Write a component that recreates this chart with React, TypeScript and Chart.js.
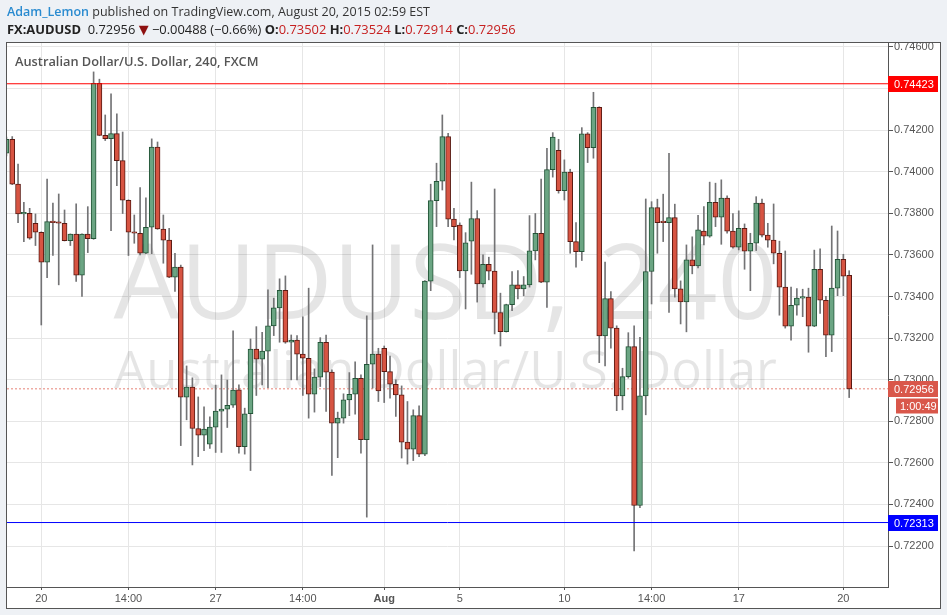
import React, { useEffect, useRef } from 'react';
import { Chart, registerables } from 'chart.js';

Chart.register(...registerables);

// ---- Data (4h candles, FX:AUDUSD, FXCM) ----
const opens = [
  0.74089, 0.74156, 0.7394, 0.73797, 0.738, 0.73752, 0.73709, 0.73565, 0.7376, 0.73755,
  0.73752, 0.73669, 0.737, 0.73502, 0.737, 0.73678, 0.74425, 0.74175, 0.74159, 0.74183,
  0.74053, 0.73863, 0.73709, 0.73704, 0.73608, 0.73733, 0.74118, 0.73724, 0.73671, 0.73493,
  0.73541, 0.72916, 0.72964, 0.72765, 0.72733, 0.7269, 0.72772, 0.72849, 0.72858, 0.72877,
  0.72951, 0.72678, 0.72836, 0.73147, 0.73099, 0.73137, 0.73259, 0.73345, 0.7343, 0.7318,
  0.7319, 0.73123, 0.73103, 0.7293, 0.73012, 0.7318, 0.73036, 0.72791, 0.72815, 0.72903,
  0.7293, 0.73007, 0.72711, 0.73074, 0.73123, 0.73151, 0.73039, 0.72978, 0.72927, 0.727,
  0.72666, 0.72827, 0.72642, 0.73474, 0.73861, 0.73954, 0.74169, 0.73772, 0.73744, 0.73523,
  0.73666, 0.73775, 0.73461, 0.73555, 0.73522, 0.73323, 0.73231, 0.73361, 0.73456, 0.73437,
  0.73456, 0.73619, 0.73704, 0.73469, 0.7401, 0.74103, 0.73909, 0.73998, 0.73664, 0.73616,
  0.74182, 0.74116, 0.7431, 0.73211, 0.7339, 0.73248, 0.72922, 0.73015, 0.73159, 0.72395,
  0.72922, 0.7352, 0.73827, 0.73759, 0.73755, 0.73779, 0.73437, 0.73374, 0.73576, 0.73547,
  0.73714, 0.7369, 0.73853, 0.73781, 0.73873, 0.73714, 0.73637, 0.73728, 0.73618, 0.73656,
  0.73849, 0.73695, 0.73671, 0.73608, 0.73445, 0.73257, 0.73358, 0.73392, 0.73397, 0.73257,
  0.73531, 0.73382, 0.73214, 0.7344, 0.73579, 0.73502,
];
const highs = [
  0.74167, 0.74169, 0.74037, 0.73853, 0.73824, 0.73797, 0.73711, 0.73965, 0.73849, 0.73893,
  0.73816, 0.73701, 0.73845, 0.73701, 0.73832, 0.7448, 0.74445, 0.74273, 0.74374, 0.74278,
  0.74191, 0.73865, 0.73792, 0.73924, 0.73874, 0.74158, 0.74143, 0.73792, 0.73728, 0.73608,
  0.73551, 0.73066, 0.73009, 0.72917, 0.72869, 0.72821, 0.72974, 0.73023, 0.72998, 0.73235,
  0.72975, 0.72863, 0.73196, 0.73255, 0.73228, 0.73432, 0.73392, 0.73485, 0.73499, 0.73215,
  0.73212, 0.73302, 0.7344, 0.73052, 0.73202, 0.73215, 0.73047, 0.72844, 0.72932, 0.73034,
  0.73086, 0.73023, 0.73307, 0.73648, 0.73151, 0.73162, 0.73114, 0.72999, 0.7297, 0.72895,
  0.72855, 0.72874, 0.73476, 0.7394, 0.74041, 0.74273, 0.74185, 0.73824, 0.73754, 0.73707,
  0.7395, 0.73813, 0.736, 0.73589, 0.73917, 0.73416, 0.73363, 0.7352, 0.73525, 0.73496,
  0.73789, 0.73799, 0.73965, 0.74113, 0.74188, 0.74156, 0.74057, 0.74012, 0.73755, 0.74212,
  0.74188, 0.74382, 0.74312, 0.73566, 0.73424, 0.73259, 0.73055, 0.73226, 0.73259, 0.73204,
  0.73869, 0.73856, 0.73868, 0.73892, 0.74089, 0.73844, 0.73475, 0.73648, 0.73687, 0.7379,
  0.73832, 0.7395, 0.73945, 0.73961, 0.73884, 0.73799, 0.73812, 0.73749, 0.73704, 0.7388,
  0.73869, 0.73752, 0.73845, 0.73666, 0.73619, 0.73445, 0.73438, 0.73435, 0.7344, 0.73623,
  0.73629, 0.73401, 0.73739, 0.73715, 0.73603, 0.73524,
];
const lows = [
  0.74076, 0.73938, 0.73755, 0.73664, 0.73675, 0.73645, 0.73263, 0.73491, 0.73597, 0.73456,
  0.73667, 0.73645, 0.73472, 0.734, 0.73611, 0.73675, 0.74173, 0.7415, 0.73717, 0.73933,
  0.73799, 0.73597, 0.73656, 0.736, 0.73606, 0.73606, 0.73723, 0.7356, 0.73491, 0.73424,
  0.72683, 0.72807, 0.7259, 0.7263, 0.72659, 0.72669, 0.7265, 0.7265, 0.7277, 0.72866,
  0.72647, 0.72642, 0.72563, 0.72924, 0.72975, 0.72962, 0.73212, 0.7318, 0.73175, 0.72999,
  0.72999, 0.72924, 0.72815, 0.72844, 0.72967, 0.72847, 0.72539, 0.72625, 0.72791, 0.72827,
  0.72834, 0.72647, 0.72339, 0.72959, 0.72895, 0.7289, 0.72911, 0.72823, 0.72623, 0.72594,
  0.72611, 0.7263, 0.72634, 0.73428, 0.73736, 0.73912, 0.73736, 0.73672, 0.73491, 0.7334,
  0.73507, 0.73373, 0.73445, 0.7348, 0.7322, 0.73162, 0.73229, 0.73332, 0.73388, 0.73403,
  0.73445, 0.73576, 0.73467, 0.73347, 0.73974, 0.73897, 0.73864, 0.73608, 0.73541, 0.73573,
  0.74044, 0.74065, 0.73082, 0.73066, 0.73151, 0.72851, 0.72855, 0.73007, 0.72177, 0.72385,
  0.72831, 0.73364, 0.73608, 0.73664, 0.73323, 0.73397, 0.73268, 0.7323, 0.73509, 0.73538,
  0.73648, 0.73685, 0.73736, 0.73651, 0.73704, 0.73632, 0.73624, 0.73531, 0.73428, 0.73621,
  0.73687, 0.73637, 0.73557, 0.7331, 0.73248, 0.7319, 0.7331, 0.73303, 0.73132, 0.73255,
  0.73318, 0.73111, 0.73135, 0.73404, 0.73404, 0.72914,
];
const closes = [
  0.74156, 0.7394, 0.73797, 0.738, 0.7368, 0.73709, 0.73565, 0.7376, 0.73755, 0.73752,
  0.73669, 0.737, 0.73502, 0.737, 0.73678, 0.74425, 0.74175, 0.74159, 0.74183, 0.74053,
  0.73863, 0.73709, 0.73704, 0.73608, 0.73733, 0.74118, 0.73725, 0.73671, 0.73493, 0.73541,
  0.72916, 0.72964, 0.72765, 0.72733, 0.72762, 0.72772, 0.72849, 0.72858, 0.72877, 0.7295,
  0.72678, 0.72836, 0.73147, 0.73099, 0.73137, 0.73259, 0.73345, 0.7343, 0.7318, 0.7319,
  0.73123, 0.73103, 0.7293, 0.73012, 0.7318, 0.73036, 0.72791, 0.72815, 0.72903, 0.7293,
  0.73007, 0.72711, 0.73074, 0.73123, 0.72946, 0.73039, 0.72978, 0.72927, 0.727, 0.72666,
  0.72827, 0.72642, 0.73474, 0.73861, 0.73954, 0.74169, 0.73772, 0.73736, 0.73523, 0.73658,
  0.73775, 0.73461, 0.73555, 0.73522, 0.73323, 0.73231, 0.73361, 0.73456, 0.73437, 0.73456,
  0.73619, 0.73704, 0.73469, 0.7401, 0.74167, 0.73909, 0.73998, 0.73664, 0.73616, 0.74182,
  0.74116, 0.7431, 0.73211, 0.7339, 0.73248, 0.72922, 0.73015, 0.73159, 0.72395, 0.72922,
  0.7352, 0.73827, 0.73755, 0.73755, 0.73779, 0.73437, 0.73374, 0.73576, 0.73547, 0.7372,
  0.7369, 0.73853, 0.73781, 0.73873, 0.73714, 0.73637, 0.73728, 0.73618, 0.73656, 0.73849,
  0.73695, 0.73671, 0.73608, 0.73445, 0.73257, 0.73358, 0.73392, 0.73397, 0.73257, 0.73531,
  0.73382, 0.73214, 0.7344, 0.73579, 0.73498, 0.72956,
];

const yTickValues = [0.722, 0.724, 0.726, 0.728, 0.73, 0.732, 0.734, 0.736, 0.738, 0.74, 0.742, 0.744, 0.746];
const xTickIndex = [7, 22, 37, 52, 66, 79, 97, 112, 127, 145];
const xTickLabels = ['20', '14:00', '27', '14:00', 'Aug', '5', '10', '14:00', '17', '20'];

const resistanceLevel = 0.74423;
const supportLevel = 0.72313;
const dayChange = -0.00488;
const dayChangePct = -0.66;
const countdown = '1:00:49';
const symbol = 'AUDUSD';
const interval = '240';
const description = 'Australian Dollar/U.S. Dollar';
const exchange = 'FXCM';
const author = 'Adam_Lemon';
const published = 'published on TradingView.com, August 20, 2015 02:59 EST';

// ---- Styles ----
const UP = '#6ba583';
const DOWN = '#d75442';
const UP_BORDER = '#225437';
const DOWN_BORDER = '#5b1a13';
const WICK = '#737375';
const GRID = '#e6e6e6';
const AXIS = '#555555';
const PAGE_BG = '#eef1f5';
const LAST_COLOR = '#d9574a';
const TICK_FONT = '"Liberation Sans", Arial, sans-serif';
const UI_FONT = '"Open Sans", "DejaVu Sans", sans-serif';

const X_MIN = 1.1;
const X_MAX = 152.68;
const Y_MIN = 0.72003;
const Y_MAX = 0.74619;

const fmt = (v: number) => v.toFixed(5);
const signed = (v: number, d: number) => (v < 0 ? '\u2212' : '+') + Math.abs(v).toFixed(d);

export default function App() {
  const canvasRef = useRef<HTMLCanvasElement>(null);

  useEffect(() => {
    const canvas = canvasRef.current;
    if (!canvas) return;
    const idx = opens.map((_, i) => i + 1);
    const lastPrice = closes[closes.length - 1];

    const bgPlugin = {
      id: 'pageBackground',
      beforeDraw(chart: any) {
        const { ctx, chartArea } = chart;
        ctx.save();
        ctx.fillStyle = PAGE_BG;
        ctx.fillRect(0, 0, chart.width, chart.height);
        const l = chartArea.left - 0.5;
        const t = chartArea.top - 0.5;
        const r = chart.width - 6.5;
        const b = chart.height - 6.5;
        ctx.fillStyle = '#ffffff';
        ctx.fillRect(l, t, r - l, b - t);
        ctx.strokeStyle = AXIS;
        ctx.lineWidth = 1;
        ctx.strokeRect(l, t, r - l, b - t);
        ctx.restore();
      },
    };

    const watermarkPlugin = {
      id: 'watermark',
      beforeDatasetsDraw(chart: any) {
        const { ctx, chartArea } = chart;
        const cx = (chartArea.left + chartArea.right) / 2 - 2;
        ctx.save();
        ctx.beginPath();
        ctx.rect(chartArea.left, chartArea.top, chartArea.right - chartArea.left, chartArea.bottom - chartArea.top);
        ctx.clip();
        ctx.fillStyle = 'rgba(0,0,0,0.10)';
        ctx.textAlign = 'center';
        ctx.textBaseline = 'alphabetic';
        ctx.font = `105px ${UI_FONT}`;
        ctx.fillText(`${symbol}, ${interval}`, cx, 319);
        ctx.font = `51px ${UI_FONT}`;
        ctx.fillText(description, cx, 388);
        ctx.restore();
      },
    };

    const overlayPlugin = {
      id: 'overlay',
      afterDraw(chart: any) {
        const { ctx, chartArea } = chart;
        const ys = chart.scales.y;
        ctx.save();
        ctx.fillStyle = AXIS;
        ctx.font = `600 12.8px ${UI_FONT}`;
        ctx.textAlign = 'left';
        ctx.textBaseline = 'alphabetic';
        ctx.fillText(`${description}, ${interval}, ${exchange}`, chartArea.left + 8, 65.5);

        const x0 = chartArea.right;
        const drawBox = (value: number, text: string, color: string) => {
          const y = ys.getPixelForValue(value);
          const top = Math.round(y - 8);
          ctx.fillStyle = color;
          ctx.fillRect(x0, top, 50, 16);
          ctx.fillStyle = '#ffffff';
          ctx.font = `11px ${TICK_FONT}`;
          ctx.textBaseline = 'middle';
          ctx.fillText(text, x0 + 6, top + 8.5);
          return top + 16;
        };
        drawBox(resistanceLevel, fmt(resistanceLevel), '#ff0000');
        drawBox(supportLevel, fmt(supportLevel), '#0000ff');
        const bottom = drawBox(lastPrice, fmt(lastPrice), LAST_COLOR);
        ctx.fillStyle = LAST_COLOR;
        ctx.fillRect(x0 + 8, bottom + 1.5, 42, 15);
        ctx.fillStyle = '#ffffff';
        ctx.fillText(countdown, x0 + 12, bottom + 9.5);
        ctx.restore();
      },
    };

    const chart = new Chart(canvas, {
      type: 'bar',
      data: {
        datasets: [
          {
            type: 'line',
            data: [{ x: X_MIN, y: resistanceLevel }, { x: X_MAX, y: resistanceLevel }],
            borderColor: '#ff0000',
            borderWidth: 1,
            pointRadius: 0,
            order: 0,
          } as any,
          {
            type: 'line',
            data: [{ x: X_MIN, y: supportLevel }, { x: X_MAX, y: supportLevel }],
            borderColor: '#0000ff',
            borderWidth: 1,
            pointRadius: 0,
            order: 0,
          } as any,
          {
            type: 'line',
            data: [{ x: X_MIN, y: lastPrice }, { x: X_MAX, y: lastPrice }],
            borderColor: 'rgba(226,110,95,0.85)',
            borderWidth: 1,
            borderDash: [2, 2],
            pointRadius: 0,
            order: 5,
          } as any,
          {
            type: 'bar',
            data: idx.map((x, i) => ({ x, y: [opens[i], closes[i]] })),
            backgroundColor: idx.map((_, i) => (closes[i] >= opens[i] ? UP : DOWN)),
            borderColor: idx.map((_, i) => (closes[i] >= opens[i] ? UP_BORDER : DOWN_BORDER)),
            borderWidth: 1,
            borderSkipped: false,
            barThickness: 5,
            minBarLength: 1.5,
            grouped: false,
            order: 1,
          } as any,
          {
            type: 'bar',
            data: idx.map((x, i) => ({ x, y: [lows[i], highs[i]] })),
            backgroundColor: WICK,
            borderWidth: 0,
            barThickness: 1,
            grouped: false,
            order: 2,
          } as any,
        ],
      },
      options: {
        responsive: false,
        animation: false,
        events: [],
        layout: { padding: { left: 7, top: 43, right: 6, bottom: 6 } },
        plugins: {
          legend: { display: false },
          tooltip: { enabled: false },
          title: { display: false },
        },
        scales: {
          x: {
            type: 'linear',
            min: X_MIN,
            max: X_MAX,
            offset: false,
            bounds: 'data',
            grid: { offset: false, color: GRID, tickColor: AXIS, tickLength: 3, drawTicks: true },
            border: { color: AXIS, width: 1 },
            afterBuildTicks: (s: any) => {
              s.ticks = xTickIndex.map((v) => ({ value: v }));
            },
            afterFit: (s: any) => {
              s.height = 22;
            },
            ticks: {
              autoSkip: false,
              maxRotation: 0,
              minRotation: 0,
              padding: 2,
              color: AXIS,
              font: (c: any) => ({
                family: TICK_FONT,
                size: 11,
                weight: xTickLabels[c.index] === 'Aug' ? 'bold' : 'normal',
              }),
              callback: (_v: any, i: number) => xTickLabels[i],
            },
          },
          y: {
            type: 'linear',
            position: 'right',
            min: Y_MIN,
            max: Y_MAX,
            bounds: 'data',
            grid: { color: GRID, tickColor: AXIS, tickLength: 5, drawTicks: true },
            border: { color: AXIS, width: 1 },
            afterBuildTicks: (s: any) => {
              s.ticks = yTickValues.map((v) => ({ value: v }));
            },
            afterFit: (s: any) => {
              s.width = 53;
            },
            ticks: {
              padding: 1,
              color: AXIS,
              font: { family: TICK_FONT, size: 11 },
              callback: (v: any) => Number(v).toFixed(5),
            },
          },
        },
      } as any,
      plugins: [bgPlugin, watermarkPlugin, overlayPlugin],
    });
    return () => chart.destroy();
  }, []);

  const last = closes.length - 1;
  const red = '#c62020';
  return (
    <div style={{ position: 'absolute', left: 0, top: 0, width: 947, height: 615, overflow: 'hidden' }}>
      <canvas ref={canvasRef} width={947} height={615} style={{ position: 'absolute', left: 0, top: 0 }} />
      <div
        style={{
          position: 'absolute', left: 7, top: 3, zIndex: 2, whiteSpace: 'nowrap',
          font: `12.5px ${UI_FONT}`, color: '#333', lineHeight: '18px',
        }}
      >
        <span style={{ color: '#2a8bd0', fontWeight: 600 }}>{author}</span> {published}
      </div>
      <div
        style={{
          position: 'absolute', left: 7, top: 20, zIndex: 2, whiteSpace: 'nowrap',
          font: `12.9px ${UI_FONT}`, color: '#222', lineHeight: '18px',
        }}
      >
        <b>FX:{symbol}</b>&nbsp; {fmt(closes[last])}{' '}
        <span style={{ color: '#8e1010' }}>▼</span> {signed(dayChange, 5)} ({signed(dayChangePct, 2)}%){' '}
        <b>O:</b><span style={{ color: red }}>{fmt(opens[last])}</span>{' '}
        <b>H:</b><span style={{ color: red }}>{fmt(highs[last])}</span>{' '}
        <b>L:</b><span style={{ color: red }}>{fmt(lows[last])}</span>{' '}
        <b>C:</b><span style={{ color: red }}>{fmt(closes[last])}</span>
      </div>
    </div>
  );
}
